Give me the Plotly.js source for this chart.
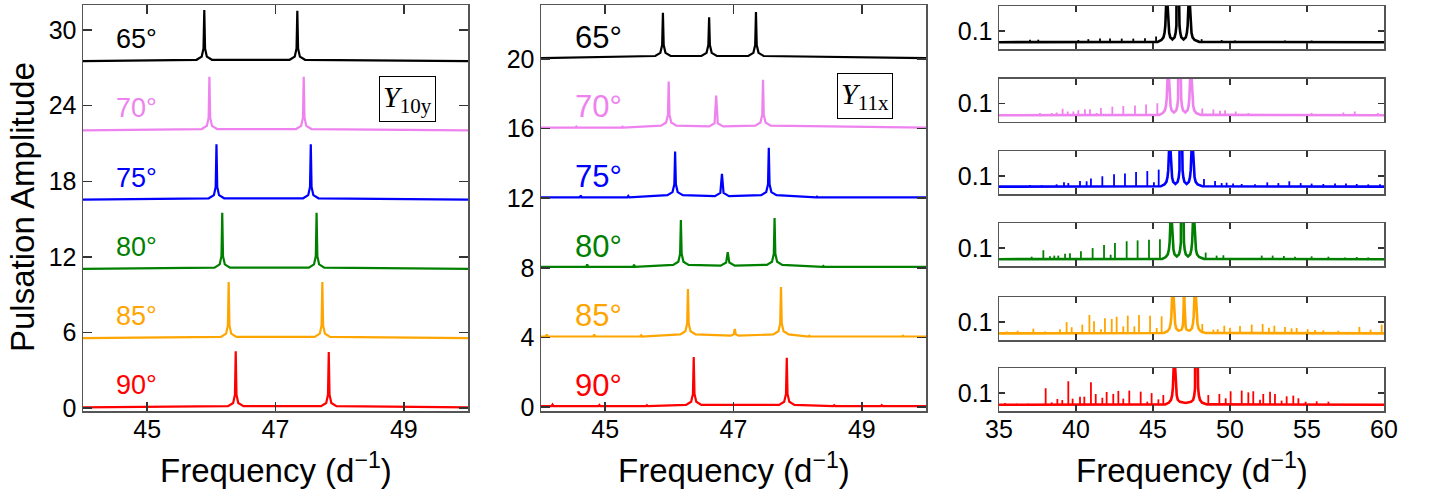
<!DOCTYPE html>
<html><head><meta charset="utf-8">
<script src="https://cdn.plot.ly/plotly-3.0.1.min.js"></script>
<style>html,body{margin:0;padding:0;background:#fff;}#chart{width:1430px;height:495px;}</style>
</head><body><div id="chart"></div>
<script>
// ---------- DATA ----------
const angleLabels = ['90°', '85°', '80°', '75°', '70°', '65°'];
const seriesColors = ['#ff0000', '#ffa500', '#008000', '#0000ff', '#ee82ee', '#000000'];
const leftTicks = [0, 6, 12, 18, 24, 30];
const midTicks = [0, 4, 8, 12, 16, 20];
const xTicksZoom = [45, 47, 49];
const xTicksWide = [35, 40, 45, 50, 55, 60];

// Left panel (Y10y), offset spectra
const y10_90_x = [44, 46.26, 46.34, 46.368, 46.38, 46.392, 46.42, 46.50, 47.71, 47.79, 47.818, 47.83, 47.842, 47.87, 47.95, 50];
const y10_90_y = [0.05, 0.15, 0.4, 1.05, 4.5, 1.05, 0.4, 0.15, 0.15, 0.4, 1.05, 4.45, 1.05, 0.4, 0.15, 0.05];
const y10_85_x = [44, 46.15, 46.23, 46.258, 46.27, 46.282, 46.31, 46.39, 47.61, 47.69, 47.718, 47.73, 47.742, 47.77, 47.85, 50];
const y10_85_y = [5.55, 5.65, 5.9, 6.55, 10.0, 6.55, 5.9, 5.65, 5.65, 5.9, 6.55, 10.0, 6.55, 5.9, 5.65, 5.55];
const y10_80_x = [44, 46.05, 46.13, 46.158, 46.17, 46.182, 46.21, 46.29, 47.52, 47.60, 47.628, 47.64, 47.652, 47.68, 47.76, 50];
const y10_80_y = [11.05, 11.15, 11.4, 12.05, 15.5, 12.05, 11.4, 11.15, 11.15, 11.4, 12.05, 15.5, 12.05, 11.4, 11.15, 11.05];
const y10_75_x = [44, 45.96, 46.04, 46.068, 46.08, 46.092, 46.12, 46.20, 47.43, 47.51, 47.538, 47.55, 47.562, 47.59, 47.67, 50];
const y10_75_y = [16.55, 16.65, 16.9, 17.55, 20.95, 17.55, 16.9, 16.65, 16.65, 16.9, 17.55, 20.95, 17.55, 16.9, 16.65, 16.55];
const y10_70_x = [44, 45.85, 45.93, 45.958, 45.97, 45.982, 46.01, 46.09, 47.32, 47.40, 47.428, 47.44, 47.452, 47.48, 47.56, 50];
const y10_70_y = [22.05, 22.15, 22.4, 23.05, 26.3, 23.05, 22.4, 22.15, 22.15, 22.4, 23.05, 26.3, 23.05, 22.4, 22.15, 22.05];
const y10_65_x = [44, 45.77, 45.85, 45.878, 45.89, 45.902, 45.93, 46.01, 47.22, 47.30, 47.328, 47.34, 47.352, 47.38, 47.46, 50];
const y10_65_y = [27.55, 27.65, 27.9, 28.55, 31.6, 28.55, 27.9, 27.65, 27.65, 27.9, 28.55, 31.55, 28.55, 27.9, 27.65, 27.55];
const y10Bases = [0.05, 5.55, 11.05, 16.55, 22.05, 27.55];

// Middle panel (Y11x), offset spectra
const y11_90_x = [44, 44.165, 44.18, 44.195, 44.895, 44.91, 44.925, 45.635, 45.65, 45.665, 46.26, 46.34, 46.368, 46.38, 46.392, 46.42, 46.50, 47.71, 47.79, 47.818, 47.83, 47.842, 47.87, 47.95, 48.555, 48.57, 48.585, 49.295, 49.31, 49.325, 50];
const y11_90_y = [0.05, 0.05, 0.14, 0.05, 0.05, 0.12, 0.05, 0.05, 0.1, 0.05, 0.12, 0.3, 0.75, 2.87, 0.75, 0.3, 0.12, 0.12, 0.3, 0.75, 2.83, 0.75, 0.3, 0.12, 0.05, 0.1, 0.05, 0.05, 0.11, 0.05, 0.05];
const y11_85_x = [44, 44.075, 44.09, 44.105, 44.815, 44.83, 44.845, 45.545, 45.56, 45.575, 46.17, 46.25, 46.278, 46.29, 46.302, 46.33, 46.41, 46.96, 47.005, 47.02, 47.035, 47.08, 47.62, 47.70, 47.728, 47.74, 47.752, 47.78, 47.86, 48.165, 48.18, 48.195, 49.625, 49.64, 49.655, 50];
const y11_85_y = [4.05, 4.05, 4.17, 4.05, 4.05, 4.17, 4.05, 4.05, 4.12, 4.05, 4.17, 4.35, 4.8, 6.78, 4.8, 4.35, 4.17, 4.1, 4.18, 4.48, 4.18, 4.1, 4.17, 4.35, 4.8, 6.9, 4.8, 4.35, 4.17, 4.05, 4.1, 4.05, 4.05, 4.1, 4.05, 4.05];
const y11_80_x = [44, 44.705, 44.72, 44.735, 45.435, 45.45, 45.465, 46.06, 46.14, 46.168, 46.18, 46.192, 46.22, 46.30, 46.80, 46.885, 46.91, 46.935, 47.02, 47.52, 47.60, 47.628, 47.64, 47.652, 47.68, 47.76, 48.385, 48.4, 48.415, 50];
const y11_80_y = [8.05, 8.05, 8.19, 8.05, 8.05, 8.17, 8.05, 8.17, 8.35, 8.8, 10.75, 8.8, 8.35, 8.17, 8.12, 8.3, 8.9, 8.3, 8.12, 8.17, 8.35, 8.8, 10.86, 8.8, 8.35, 8.17, 8.05, 8.1, 8.05, 8.05];
const y11_75_x = [44, 44.605, 44.62, 44.635, 45.345, 45.36, 45.375, 45.97, 46.05, 46.078, 46.09, 46.102, 46.13, 46.21, 46.71, 46.795, 46.82, 46.845, 46.93, 47.43, 47.51, 47.538, 47.55, 47.562, 47.59, 47.67, 48.285, 48.3, 48.315, 50];
const y11_75_y = [12.05, 12.05, 12.15, 12.05, 12.05, 12.13, 12.05, 12.17, 12.35, 12.8, 14.68, 12.8, 12.35, 12.17, 12.12, 12.3, 13.4, 12.3, 12.12, 12.17, 12.35, 12.8, 14.9, 12.8, 12.35, 12.17, 12.05, 12.09, 12.05, 12.05];
const y11_70_x = [44, 44.535, 44.55, 44.565, 45.255, 45.27, 45.285, 45.87, 45.95, 45.978, 45.99, 46.002, 46.03, 46.11, 46.62, 46.705, 46.73, 46.755, 46.84, 47.34, 47.42, 47.448, 47.46, 47.472, 47.50, 47.58, 50];
const y11_70_y = [16.05, 16.05, 16.11, 16.05, 16.05, 16.1, 16.05, 16.17, 16.35, 16.8, 18.7, 16.8, 16.35, 16.17, 16.12, 16.3, 17.9, 16.3, 16.12, 16.17, 16.35, 16.8, 18.8, 16.8, 16.35, 16.17, 16.05];
const y11_65_x = [44, 45.78, 45.86, 45.888, 45.90, 45.912, 45.94, 46.02, 46.50, 46.58, 46.608, 46.62, 46.632, 46.66, 46.74, 47.23, 47.31, 47.338, 47.35, 47.362, 47.39, 47.47, 50];
const y11_65_y = [20.05, 20.17, 20.35, 20.8, 22.65, 20.8, 20.35, 20.17, 20.17, 20.35, 20.8, 22.4, 20.8, 20.35, 20.17, 20.17, 20.35, 20.8, 22.7, 20.8, 20.35, 20.17, 20.05];
const y11Bases = [0.05, 4.05, 8.05, 12.05, 16.05, 20.05];

// Right panels: wide spectra (main peak region) ...
const w65_x = [35, 45.3, 45.55, 45.68, 45.75, 45.80, 45.85, 45.88, 45.90, 45.92, 45.95, 46.00, 46.05, 46.12, 46.26, 46.40, 46.47, 46.52, 46.57, 46.60, 46.62, 46.64, 46.67, 46.72, 46.77, 46.84, 46.985, 47.13, 47.20, 47.25, 47.30, 47.33, 47.35, 47.37, 47.40, 47.45, 47.50, 47.57, 47.70, 48.0, 60];
const w65_y = [0.038, 0.04, 0.05, 0.065, 0.09, 0.13, 0.24, 0.6, 3, 0.6, 0.24, 0.13, 0.09, 0.065, 0.053, 0.065, 0.09, 0.13, 0.24, 0.6, 3, 0.6, 0.24, 0.13, 0.09, 0.065, 0.053, 0.065, 0.09, 0.13, 0.24, 0.6, 3, 0.6, 0.24, 0.13, 0.09, 0.065, 0.05, 0.04, 0.038];
const w70_x = [35, 45.4, 45.64, 45.77, 45.84, 45.89, 45.94, 45.97, 45.99, 46.01, 46.04, 46.09, 46.14, 46.21, 46.36, 46.51, 46.58, 46.63, 46.68, 46.71, 46.73, 46.75, 46.78, 46.83, 46.88, 46.95, 47.095, 47.24, 47.31, 47.36, 47.41, 47.44, 47.46, 47.48, 47.51, 47.56, 47.61, 47.68, 47.81, 48.1, 60];
const w70_y = [0.035, 0.037, 0.047, 0.062, 0.087, 0.127, 0.24, 0.6, 3, 0.6, 0.24, 0.127, 0.087, 0.062, 0.05, 0.062, 0.087, 0.127, 0.24, 0.6, 3, 0.6, 0.24, 0.127, 0.087, 0.062, 0.05, 0.062, 0.087, 0.127, 0.24, 0.6, 3, 0.6, 0.24, 0.127, 0.087, 0.062, 0.047, 0.037, 0.035];
const w75_x = [35, 45.5, 45.74, 45.87, 45.94, 45.99, 46.04, 46.07, 46.09, 46.11, 46.14, 46.19, 46.24, 46.31, 46.455, 46.60, 46.67, 46.72, 46.77, 46.80, 46.82, 46.84, 46.87, 46.92, 46.97, 47.04, 47.185, 47.33, 47.40, 47.45, 47.50, 47.53, 47.55, 47.57, 47.60, 47.65, 47.70, 47.77, 47.90, 48.2, 60];
const w75_y = [0.041, 0.043, 0.053, 0.068, 0.093, 0.133, 0.24, 0.6, 3, 0.6, 0.24, 0.133, 0.093, 0.068, 0.056, 0.068, 0.093, 0.133, 0.24, 0.6, 3, 0.6, 0.24, 0.133, 0.093, 0.068, 0.056, 0.068, 0.093, 0.133, 0.24, 0.6, 3, 0.6, 0.24, 0.133, 0.093, 0.068, 0.053, 0.043, 0.041];
const w80_x = [35, 45.6, 45.83, 45.96, 46.03, 46.08, 46.13, 46.16, 46.18, 46.20, 46.23, 46.28, 46.33, 46.40, 46.545, 46.69, 46.76, 46.81, 46.86, 46.89, 46.91, 46.93, 46.96, 47.01, 47.06, 47.13, 47.275, 47.42, 47.49, 47.54, 47.59, 47.62, 47.64, 47.66, 47.69, 47.74, 47.79, 47.86, 47.99, 48.3, 60];
const w80_y = [0.038, 0.04, 0.05, 0.065, 0.09, 0.13, 0.24, 0.6, 3, 0.6, 0.24, 0.13, 0.09, 0.065, 0.053, 0.065, 0.09, 0.13, 0.24, 0.6, 3, 0.6, 0.24, 0.13, 0.09, 0.065, 0.053, 0.065, 0.09, 0.13, 0.24, 0.6, 3, 0.6, 0.24, 0.13, 0.09, 0.065, 0.05, 0.04, 0.038];
const w85_x = [35, 45.7, 45.94, 46.07, 46.14, 46.19, 46.24, 46.27, 46.29, 46.31, 46.34, 46.39, 46.44, 46.51, 46.655, 46.80, 46.87, 46.92, 46.96, 46.995, 47.02, 47.045, 47.08, 47.12, 47.17, 47.24, 47.38, 47.52, 47.59, 47.64, 47.69, 47.72, 47.74, 47.76, 47.79, 47.84, 47.89, 47.96, 48.09, 48.4, 60];
const w85_y = [0.037, 0.039, 0.049, 0.064, 0.089, 0.129, 0.24, 0.6, 3, 0.6, 0.24, 0.129, 0.089, 0.064, 0.052, 0.055, 0.06, 0.075, 0.1, 0.2, 0.45, 0.2, 0.1, 0.075, 0.06, 0.055, 0.052, 0.064, 0.089, 0.129, 0.24, 0.6, 3, 0.6, 0.24, 0.129, 0.089, 0.064, 0.049, 0.039, 0.037];
const w90_x = [35, 45.8, 46.04, 46.17, 46.24, 46.29, 46.34, 46.37, 46.39, 46.41, 46.44, 46.49, 46.54, 46.61, 46.75, 47.11, 47.47, 47.61, 47.68, 47.73, 47.78, 47.81, 47.83, 47.85, 47.88, 47.93, 47.98, 48.05, 48.18, 48.5, 60];
const w90_y = [0.035, 0.037, 0.047, 0.062, 0.087, 0.127, 0.24, 0.6, 3, 0.6, 0.24, 0.127, 0.087, 0.062, 0.052, 0.045, 0.052, 0.062, 0.087, 0.127, 0.24, 0.6, 3, 0.6, 0.24, 0.127, 0.087, 0.062, 0.047, 0.037, 0.035];

// ... plus the combination-frequency spikes (frequency, amplitude)
const s65_f = [37.01, 37.55, 40.15, 40.8, 41.56, 42.21, 42.97, 43.72, 44.48, 45.2, 48.16, 49.46, 50.33, 53.57, 55.3];
const s65_a = [0.052, 0.052, 0.05, 0.055, 0.058, 0.058, 0.058, 0.058, 0.06, 0.07, 0.055, 0.05, 0.048, 0.047, 0.047];
const s70_f = [37.66, 38.42, 38.74, 39.13, 39.46, 39.83, 40.15, 40.58, 40.91, 41.34, 41.62, 42.36, 43.07, 43.83, 44.55, 45.28, 48.2, 48.92, 49.35, 49.68, 50.37, 51.19, 55.3, 57.36, 58.1, 59.6];
const s70_a = [0.047, 0.047, 0.05, 0.071, 0.056, 0.056, 0.063, 0.069, 0.069, 0.047, 0.076, 0.082, 0.086, 0.089, 0.095, 0.102, 0.073, 0.067, 0.06, 0.063, 0.056, 0.047, 0.047, 0.05, 0.056, 0.047];
const s75_f = [37.01, 37.77, 38.74, 39.22, 39.5, 40.26, 40.69, 40.97, 41.71, 42.47, 43.18, 43.9, 44.63, 45.06, 45.37, 48.31, 49.03, 49.46, 49.78, 50.2, 50.76, 51.62, 52.42, 53.14, 53.85, 54.59, 55.3, 56.06, 56.82, 57.53, 58.23, 58.98, 59.74];
const s75_a = [0.05, 0.048, 0.054, 0.065, 0.061, 0.073, 0.071, 0.086, 0.099, 0.11, 0.115, 0.123, 0.128, 0.065, 0.136, 0.084, 0.073, 0.061, 0.063, 0.058, 0.056, 0.054, 0.065, 0.061, 0.071, 0.061, 0.058, 0.056, 0.058, 0.058, 0.056, 0.054, 0.054];
const s80_f = [36.04, 37.12, 37.88, 38.31, 38.59, 38.85, 39.29, 39.61, 40.32, 41.08, 41.82, 42.25, 42.53, 43.29, 44.0, 44.74, 45.45, 48.42, 49.13, 49.57, 52.06, 52.77, 53.5, 54.22, 55.3, 56.39, 57.47, 58.23, 58.98];
const s80_a = [0.043, 0.052, 0.088, 0.054, 0.058, 0.058, 0.069, 0.071, 0.082, 0.1, 0.117, 0.063, 0.128, 0.138, 0.143, 0.147, 0.149, 0.075, 0.058, 0.06, 0.058, 0.058, 0.056, 0.052, 0.054, 0.052, 0.048, 0.05, 0.048];
const s85_f = [35.5, 36.21, 37.23, 37.99, 38.96, 39.39, 39.72, 40.41, 40.87, 41.17, 41.62, 41.88, 42.32, 42.64, 43.07, 43.36, 43.79, 44.09, 44.81, 45.24, 45.56, 48.2, 48.92, 49.2, 49.63, 50.0, 50.65, 51.41, 52.12, 52.53, 52.88, 53.57, 54.0, 54.33, 55.04, 55.52, 56.06, 57.03, 58.4, 59.13, 59.85];
const s85_a = [0.048, 0.052, 0.063, 0.048, 0.06, 0.1, 0.071, 0.086, 0.14, 0.104, 0.06, 0.121, 0.117, 0.13, 0.076, 0.136, 0.076, 0.14, 0.136, 0.067, 0.132, 0.089, 0.058, 0.06, 0.08, 0.069, 0.078, 0.086, 0.089, 0.069, 0.08, 0.073, 0.065, 0.067, 0.06, 0.056, 0.054, 0.052, 0.073, 0.058, 0.086];
const s90_f = [35.39, 36.15, 36.9, 38.03, 38.42, 38.79, 39.11, 39.5, 39.78, 40.26, 40.54, 40.97, 41.28, 41.71, 41.99, 42.42, 42.75, 43.07, 43.46, 44.2, 44.63, 44.91, 45.35, 45.67, 48.59, 49.31, 49.72, 50.04, 50.76, 51.19, 51.51, 51.95, 52.16, 52.6, 52.92, 53.35, 53.68, 54.11, 54.44, 54.91, 55.63, 56.39];
const s90_a = [0.045, 0.041, 0.041, 0.127, 0.048, 0.067, 0.061, 0.166, 0.069, 0.08, 0.08, 0.16, 0.095, 0.074, 0.106, 0.095, 0.112, 0.069, 0.114, 0.108, 0.052, 0.1, 0.065, 0.089, 0.089, 0.095, 0.071, 0.11, 0.114, 0.104, 0.11, 0.063, 0.095, 0.108, 0.095, 0.058, 0.082, 0.086, 0.071, 0.052, 0.054, 0.052];
const wideBases = [0.035, 0.037, 0.038, 0.041, 0.035, 0.038];

// ---------- BUILD ----------
const leftX = [y10_90_x, y10_85_x, y10_80_x, y10_75_x, y10_70_x, y10_65_x];
const leftY = [y10_90_y, y10_85_y, y10_80_y, y10_75_y, y10_70_y, y10_65_y];
const midX = [y11_90_x, y11_85_x, y11_80_x, y11_75_x, y11_70_x, y11_65_x];
const midY = [y11_90_y, y11_85_y, y11_80_y, y11_75_y, y11_70_y, y11_65_y];
const wideX = [w90_x, w85_x, w80_x, w75_x, w70_x, w65_x];
const wideY = [w90_y, w85_y, w80_y, w75_y, w70_y, w65_y];
const spikeF = [s90_f, s85_f, s80_f, s75_f, s70_f, s65_f];
const spikeA = [s90_a, s85_a, s80_a, s75_a, s70_a, s65_a];

const FONT = 'Liberation Sans, Arial, sans-serif';
const traces = [];
for (let i = 0; i < 6; i++) {
  traces.push({x: leftX[i], y: leftY[i], xaxis: 'x', yaxis: 'y', mode: 'lines',
    line: {color: seriesColors[i], width: 2.2}, hoverinfo: 'skip', showlegend: false});
  traces.push({x: midX[i], y: midY[i], xaxis: 'x2', yaxis: 'y2', mode: 'lines',
    line: {color: seriesColors[i], width: 2.2}, hoverinfo: 'skip', showlegend: false});
  const k = 8 - i; // 90 -> 8 (bottom), 65 -> 3 (top)
  const sx = [], sy = [];
  spikeF[i].forEach((f, j) => { sx.push(f, f, null); sy.push(wideBases[i], spikeA[i][j], null); });
  traces.push({x: sx, y: sy, xaxis: 'x' + k, yaxis: 'y' + k, mode: 'lines',
    line: {color: seriesColors[i], width: 1.8}, hoverinfo: 'skip', showlegend: false});
  traces.push({x: wideX[i], y: wideY[i], xaxis: 'x' + k, yaxis: 'y' + k, mode: 'lines',
    line: {color: seriesColors[i], width: 2.6}, hoverinfo: 'skip', showlegend: false});
}

const W = 1430, H = 495;
const px = v => v / W, py = v => 1 - v / H;
const axBase = {showline: true, linecolor: '#555', linewidth: 1.5, mirror: 'ticks', ticks: 'inside',
  ticklen: 9, tickwidth: 1.5, tickcolor: '#333', showgrid: false, zeroline: false,
  tickfont: {family: FONT, size: 25, color: '#000'}, fixedrange: true};

const layout = {
  width: W, height: H, margin: {l: 0, r: 0, t: 0, b: 0}, paper_bgcolor: '#fff', plot_bgcolor: '#fff',
  showlegend: false, font: {family: FONT, color: '#000'},
  xaxis: Object.assign({}, axBase, {domain: [px(83), px(468)], anchor: 'y', range: [44, 50], tickvals: xTicksZoom, ticklabelstandoff: -5}),
  yaxis: Object.assign({}, axBase, {domain: [py(411), py(5)], anchor: 'x', range: [-0.24, 32.0], tickvals: leftTicks}),
  xaxis2: Object.assign({}, axBase, {domain: [px(541), px(926)], anchor: 'y2', range: [44, 50], tickvals: xTicksZoom, ticklabelstandoff: -5}),
  yaxis2: Object.assign({}, axBase, {domain: [py(411), py(5)], anchor: 'x2', range: [-0.23, 23.1], tickvals: midTicks}),
  annotations: []
};
const rightTops = [6, 78.5, 151, 223, 297, 368];
for (let k = 3; k <= 8; k++) {
  const top = rightTops[k - 3], bot = top + 43;
  layout['xaxis' + k] = Object.assign({}, axBase, {domain: [px(999), px(1384)], anchor: 'y' + k, range: [35, 60],
    tickvals: xTicksWide, ticklen: 6, showticklabels: k === 8, ticklabelstandoff: -5});
  layout['yaxis' + k] = Object.assign({}, axBase, {domain: [py(bot), py(top)], anchor: 'x' + k, range: [0, 0.24],
    tickvals: [0.1], ticktext: ['0.1'], ticklen: 6});
}

// angle labels
for (let i = 0; i < 6; i++) {
  layout.annotations.push({xref: 'x', yref: 'y', x: 44.48, y: y10Bases[i] + 1.75, xanchor: 'left', yanchor: 'middle',
    text: angleLabels[i], showarrow: false, font: {family: FONT, size: 27, color: seriesColors[i]}});
  layout.annotations.push({xref: 'x2', yref: 'y2', x: 44.5, y: y11Bases[i] + 1.2, xanchor: 'left', yanchor: 'middle',
    text: angleLabels[i], showarrow: false, font: {family: FONT, size: 31, color: seriesColors[i]}});
}
// mode boxes
layout.annotations.push({xref: 'paper', yref: 'paper', x: px(407), y: py(98.5), xanchor: 'center', yanchor: 'middle',
  text: '<i>Y</i><sub>10y</sub>', showarrow: false, bordercolor: '#000', borderwidth: 1, borderpad: 3,
  bgcolor: '#fff', font: {family: 'Liberation Serif, serif', size: 30, color: '#000'}});
layout.annotations.push({xref: 'paper', yref: 'paper', x: px(865), y: py(96), xanchor: 'center', yanchor: 'middle',
  text: '<i>Y</i><sub>11x</sub>', showarrow: false, bordercolor: '#000', borderwidth: 1, borderpad: 3,
  bgcolor: '#fff', font: {family: 'Liberation Serif, serif', size: 30, color: '#000'}});
// axis titles
const xTitle = 'Frequency (d<sup>−1</sup>)';
[275.5, 733.5, 1191.5].forEach(cx => layout.annotations.push({xref: 'paper', yref: 'paper', x: px(cx), y: py(468),
  xanchor: 'center', yanchor: 'middle', text: xTitle, showarrow: false, font: {family: FONT, size: 33, color: '#000'}}));
layout.annotations.push({xref: 'paper', yref: 'paper', x: px(22), y: py(207), xanchor: 'center', yanchor: 'middle',
  text: 'Pulsation Amplitude', textangle: -90, showarrow: false, font: {family: FONT, size: 33, color: '#000'}});

Plotly.newPlot('chart', traces, layout, {staticPlot: true, displayModeBar: false});
</script></body></html>
